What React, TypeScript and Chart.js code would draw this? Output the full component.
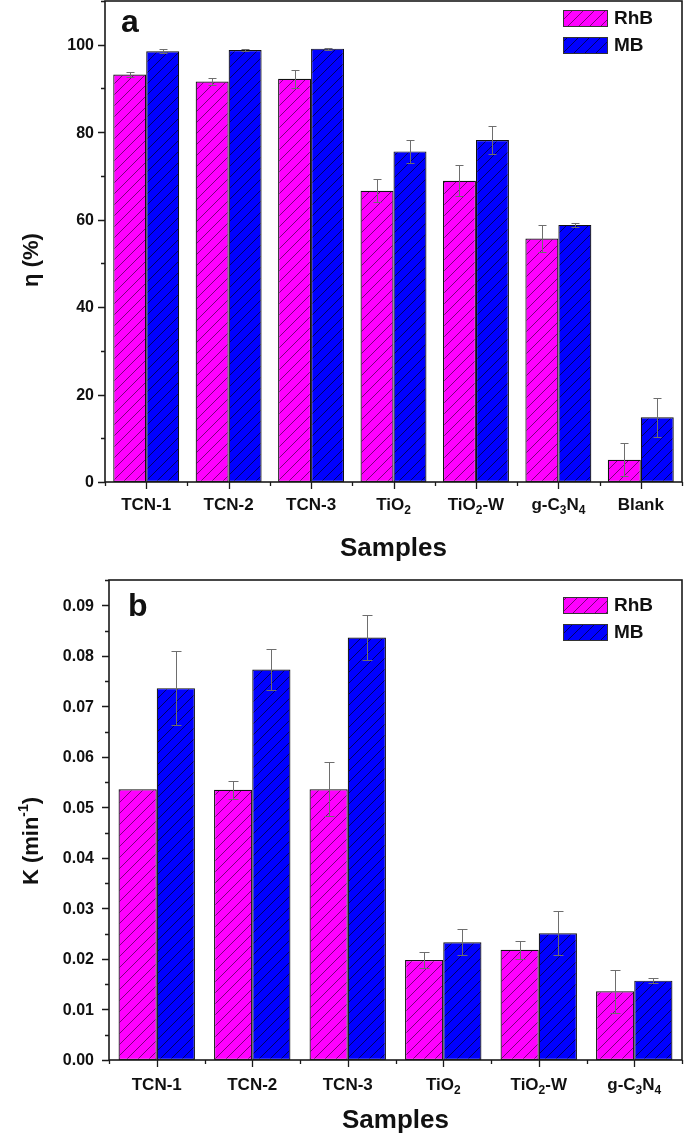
import React, { useEffect, useRef } from 'react';
import { Chart, registerables } from 'chart.js';
Chart.register(...registerables);

const FONT = '"Liberation Sans", Arial, Helvetica, sans-serif';

// ---- Panel a data ----
const samplesA = ['TCN-1', 'TCN-2', 'TCN-3', 'TiO_2', 'TiO_2-W', 'g-C_3N_4', 'Blank'];
const rhbEta = [93.2, 91.6, 92.2, 66.6, 68.9, 55.7, 5.1];
const rhbEtaErr = [0.6, 0.8, 2.1, 2.6, 3.5, 3.1, 3.8];
const mbEta = [98.5, 98.8, 99.1, 75.6, 78.2, 58.8, 14.8];
const mbEtaErr = [0.5, 0.2, 0.2, 2.7, 3.1, 0.4, 4.5];
const etaTicks = [0, 20, 40, 60, 80, 100];
const etaTickLabels = ['0', '20', '40', '60', '80', '100'];

// ---- Panel b data ----
const samplesB = ['TCN-1', 'TCN-2', 'TCN-3', 'TiO_2', 'TiO_2-W', 'g-C_3N_4'];
const rhbK = [0.0536, 0.0535, 0.0536, 0.0198, 0.0218, 0.0136];
const rhbKErr = [0, 0.0018, 0.0054, 0.0015, 0.0018, 0.0043];
const mbK = [0.0736, 0.0773, 0.0836, 0.0233, 0.0251, 0.0157];
const mbKErr = [0.0073, 0.0041, 0.0044, 0.0026, 0.0043, 0.0005];
const kTicks = [0, 0.01, 0.02, 0.03, 0.04, 0.05, 0.06, 0.07, 0.08, 0.09];
const kTickLabels = ['0.00', '0.01', '0.02', '0.03', '0.04', '0.05', '0.06', '0.07', '0.08', '0.09'];

const seriesNames = ['RhB', 'MB'];
const seriesColors = ['#ff00ff', '#0000ff'];

type Seg = { t: string; font: string; dy: number };

function parseLabel(s: string, size: number): Seg[] {
  const segs: Seg[] = [];
  let buf = '';
  for (let i = 0; i < s.length; i++) {
    if (s[i] === '_' && i + 1 < s.length) {
      if (buf) segs.push({ t: buf, font: `bold ${size}px ${FONT}`, dy: 0 });
      buf = '';
      segs.push({ t: s[i + 1], font: `bold ${Math.round(size * 0.68)}px ${FONT}`, dy: size * 0.32 });
      i++;
    } else buf += s[i];
  }
  if (buf) segs.push({ t: buf, font: `bold ${size}px ${FONT}`, dy: 0 });
  return segs;
}

function drawSegs(ctx: CanvasRenderingContext2D, segs: Seg[], cx: number, cy: number) {
  let total = 0;
  for (const s of segs) {
    ctx.font = s.font;
    total += ctx.measureText(s.t).width;
  }
  let x = cx - total / 2;
  ctx.textAlign = 'left';
  ctx.textBaseline = 'middle';
  for (const s of segs) {
    ctx.font = s.font;
    ctx.fillText(s.t, x, cy + s.dy);
    x += ctx.measureText(s.t).width;
  }
}

function makeHatch(ctx: CanvasRenderingContext2D, color: string, line: string) {
  const s = 11;
  const c = document.createElement('canvas');
  c.width = s;
  c.height = s;
  const g = c.getContext('2d')!;
  g.fillStyle = color;
  g.fillRect(0, 0, s, s);
  g.strokeStyle = line;
  g.lineWidth = 0.9;
  g.beginPath();
  g.moveTo(-1, s + 1);
  g.lineTo(s + 1, -1);
  g.moveTo(-2, 2);
  g.lineTo(2, -2);
  g.moveTo(s - 2, s + 2);
  g.lineTo(s + 2, s - 2);
  g.stroke();
  return ctx.createPattern(c, 'repeat')!;
}

interface PanelCfg {
  height: number;
  left: number;
  top: number;
  xAxisH: number;
  yMax: number;
  yTicks: number[];
  yTickLabels: string[];
  minorStep: number;
  categories: string[];
  rhb: number[];
  rhbErr: number[];
  mb: number[];
  mbErr: number[];
  letter: string;
  letterX: number;
  letterY: number;
  legendTop: number;
  yTitle: Seg[];
  yTitleX: number;
  yTitleY: number;
  labelOffset: number;
  samplesY: number;
  cap: number;
}

function Panel({ cfg }: { cfg: PanelCfg }) {
  const ref = useRef<HTMLCanvasElement | null>(null);
  useEffect(() => {
    const canvas = ref.current!;
    const ctx = canvas.getContext('2d')!;
    const patterns = [
      makeHatch(ctx, seriesColors[0], 'rgba(60,0,60,0.75)'),
      makeHatch(ctx, seriesColors[1], 'rgba(0,0,40,0.8)'),
    ];
    const errs = [cfg.rhbErr, cfg.mbErr];
    const vals = [cfg.rhb, cfg.mb];

    const deco = {
      id: 'deco',
      afterDatasetsDraw(chart: any) {
        const c = chart.ctx as CanvasRenderingContext2D;
        const ys = chart.scales.y;
        c.save();
        c.strokeStyle = '#6e6e6e';
        c.lineWidth = 1;
        for (let d = 0; d < 2; d++) {
          const meta = chart.getDatasetMeta(d);
          meta.data.forEach((bar: any, i: number) => {
            const e = errs[d][i];
            if (!e) return;
            const v = vals[d][i];
            const yt = Math.round(ys.getPixelForValue(v + e)) + 0.5;
            const yb = Math.round(ys.getPixelForValue(v - e)) + 0.5;
            const x = Math.round(bar.x) + 0.5;
            c.beginPath();
            c.moveTo(x, yt);
            c.lineTo(x, yb);
            c.moveTo(x - cfg.cap, yt);
            c.lineTo(x + cfg.cap, yt);
            c.moveTo(x - cfg.cap, yb);
            c.lineTo(x + cfg.cap, yb);
            c.stroke();
          });
        }
        c.restore();
      },
      afterDraw(chart: any) {
        const c = chart.ctx as CanvasRenderingContext2D;
        const a = chart.chartArea;
        const ys = chart.scales.y;
        const xs = chart.scales.x;
        c.save();
        // frame
        c.strokeStyle = '#1a1a1a';
        c.lineWidth = 1.6;
        c.strokeRect(a.left, a.top, a.right - a.left, a.bottom - a.top);
        // y ticks
        c.lineWidth = 1.3;
        c.beginPath();
        for (let v = 0; v <= cfg.yMax + 1e-9; v += cfg.minorStep) {
          const y = Math.round(ys.getPixelForValue(v)) + 0.5;
          const major = cfg.yTicks.some((t) => Math.abs(t - v) < cfg.minorStep / 10);
          c.moveTo(a.left, y);
          c.lineTo(a.left - (major ? 7 : 4), y);
        }
        // x ticks
        const n = cfg.categories.length;
        for (let i = 0; i < n; i++) {
          const x = Math.round(xs.getPixelForValue(i)) + 0.5;
          c.moveTo(x, a.bottom);
          c.lineTo(x, a.bottom + 7);
        }
        for (let i = 0; i <= n; i++) {
          const x = Math.round(xs.getPixelForValue(i - 0.5)) + 0.5;
          c.moveTo(x, a.bottom);
          c.lineTo(x, a.bottom + 4);
        }
        c.stroke();
        c.fillStyle = '#111';
        // y tick labels
        c.font = `bold 16px ${FONT}`;
        c.textAlign = 'right';
        c.textBaseline = 'middle';
        cfg.yTicks.forEach((t, i) => {
          c.fillText(cfg.yTickLabels[i], 94, ys.getPixelForValue(t) + 1);
        });
        // x tick labels
        cfg.categories.forEach((lab, i) => {
          drawSegs(c, parseLabel(lab, 17), xs.getPixelForValue(i), a.bottom + cfg.labelOffset);
        });
        // x title
        drawSegs(c, [{ t: 'Samples', font: `bold 26px ${FONT}`, dy: 0 }], (a.left + a.right) / 2, cfg.samplesY);
        // y title
        c.save();
        c.translate(cfg.yTitleX, cfg.yTitleY);
        c.rotate(-Math.PI / 2);
        drawSegs(c, cfg.yTitle, 0, 0);
        c.restore();
        // panel letter
        c.font = `bold 32px ${FONT}`;
        c.textAlign = 'left';
        c.textBaseline = 'alphabetic';
        c.fillText(cfg.letter, cfg.letterX, cfg.letterY);
        // legend
        seriesNames.forEach((name, k) => {
          const y0 = cfg.legendTop + k * 27;
          c.fillStyle = patterns[k];
          c.fillRect(563, y0, 44, 16);
          c.strokeStyle = '#333';
          c.lineWidth = 1;
          c.strokeRect(563.5, y0 + 0.5, 44, 16);
          c.fillStyle = '#111';
          c.font = `bold 19px ${FONT}`;
          c.textAlign = 'left';
          c.textBaseline = 'middle';
          c.fillText(name, 614, y0 + 9);
        });
        c.restore();
      },
    };

    const chart = new Chart(canvas, {
      type: 'bar',
      data: {
        labels: cfg.categories,
        datasets: [0, 1].map((d) => ({
          label: seriesNames[d],
          data: vals[d],
          backgroundColor: patterns[d],
          borderColor: '#111',
          borderWidth: 1.2,
          borderSkipped: false,
          categoryPercentage: 0.8,
          barPercentage: 1.0,
        })),
      },
      options: {
        responsive: false,
        animation: false,
        events: [],
        layout: { padding: { left: 0, right: 3, top: cfg.top, bottom: 0 } },
        plugins: { legend: { display: false }, tooltip: { enabled: false }, title: { display: false } },
        scales: {
          x: {
            grid: { display: false },
            border: { display: false },
            ticks: { display: false },
            afterFit: (s: any) => {
              s.height = cfg.xAxisH;
            },
          },
          y: {
            min: 0,
            max: cfg.yMax,
            grid: { display: false },
            border: { display: false },
            ticks: { display: false },
            afterFit: (s: any) => {
              s.width = cfg.left;
            },
          },
        },
      },
      plugins: [deco],
    } as any);
    return () => chart.destroy();
  }, [cfg]);
  return <canvas ref={ref} width={685} height={cfg.height} style={{ display: 'block', width: 685, height: cfg.height }} />;
}

const cfgA: PanelCfg = {
  height: 570,
  left: 105,
  top: 1,
  xAxisH: 88,
  yMax: 110,
  yTicks: etaTicks,
  yTickLabels: etaTickLabels,
  minorStep: 10,
  categories: samplesA,
  rhb: rhbEta,
  rhbErr: rhbEtaErr,
  mb: mbEta,
  mbErr: mbEtaErr,
  letter: 'a',
  letterX: 121,
  letterY: 32,
  legendTop: 10,
  yTitle: [{ t: 'η (%)', font: `bold 22px ${FONT}`, dy: 0 }],
  yTitleX: 32,
  yTitleY: 260,
  labelOffset: 23,
  samplesY: 549,
  cap: 4,
};

const cfgB: PanelCfg = {
  height: 567,
  left: 109,
  top: 10,
  xAxisH: 77,
  yMax: 0.095,
  yTicks: kTicks,
  yTickLabels: kTickLabels,
  minorStep: 0.005,
  categories: samplesB,
  rhb: rhbK,
  rhbErr: rhbKErr,
  mb: mbK,
  mbErr: mbKErr,
  letter: 'b',
  letterX: 128,
  letterY: 46,
  legendTop: 27,
  yTitle: [
    { t: 'K (min', font: `bold 22px ${FONT}`, dy: 0 },
    { t: '-1', font: `bold 14px ${FONT}`, dy: -8 },
    { t: ')', font: `bold 22px ${FONT}`, dy: 0 },
  ],
  yTitleX: 32,
  yTitleY: 271,
  labelOffset: 25,
  samplesY: 551,
  cap: 5,
};

export default function App() {
  return (
    <div style={{ position: 'absolute', left: 0, top: 0, width: 685, height: 1137, background: '#fff' }}>
      <Panel cfg={cfgA} />
      <Panel cfg={cfgB} />
    </div>
  );
}
